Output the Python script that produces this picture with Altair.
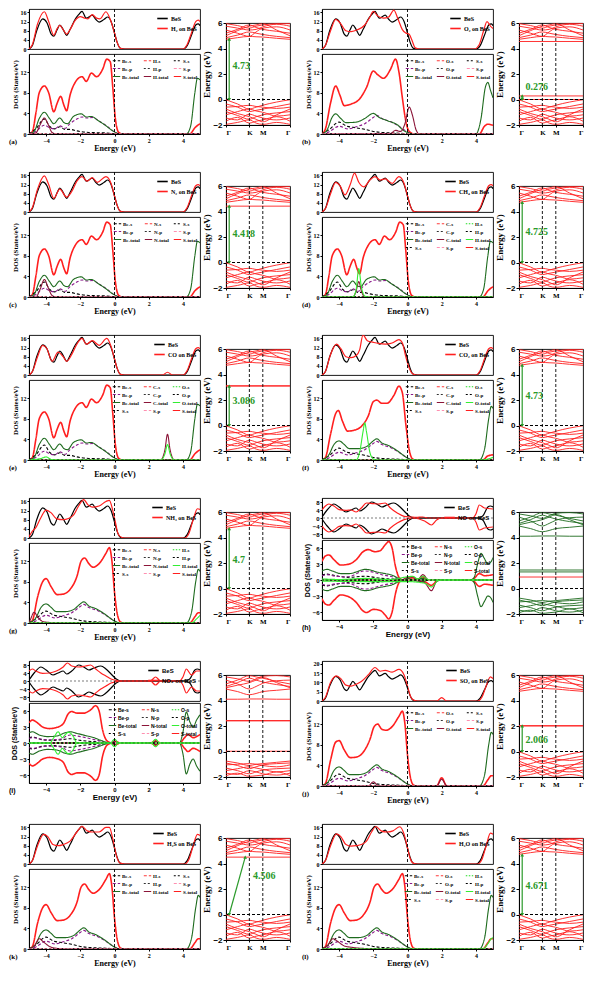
import altair as alt
import pandas as pd

SERIF = "Liberation Serif"
SANS = "Liberation Sans"
RED = "#ff1f1f"
GREEN_TXT = "#2a9a2a"
BAND_GREEN = "#1e6b1e"

# ---------------- axes / labels ----------------
E_DOMAIN = [-5, 5]
E_TICKS = [-4, -2, 0, 2, 4]
FERMI = [0]
TOP_TICKS = [0, 4, 8, 12, 16]
TOP_TICKS_J = [0, 5, 10, 15, 20]
TOP_TICKS_SPIN = [-8, -4, 0, 4, 8]
BOT_TICKS = [0, 4, 8, 12]
BOT_TICKS_SPIN = [-6, -3, 0, 3, 6]
K_NODES = [0, 0.18, 0.365, 0.47, 0.575, 0.79, 1.0]
K_TICKS = [0, 0.365, 0.575, 1.0]
K_LABELS = ["Γ", "K", "M", "Γ"]
K_LINES = [0.365, 0.575]
BAND_TICKS = [-2, 0, 2, 4, 6]
BAND_DOMAIN = [-2, 6]

ZERO = [[-5, 0], [5, 0]]

# ---------------- total DOS (top panels) ----------------
BES_TOP = [[-5,0],[-4.8,1.5],[-4.55,8],[-4.2,13.2],[-3.95,11.5],[-3.7,6.5],[-3.55,5.6],[-3.35,8.5],[-3.2,10.5],[-3.0,8.5],[-2.8,6.0],[-2.6,8.5],[-2.3,13],[-2.1,15],[-1.9,16.5],[-1.65,13.5],[-1.3,14.8],[-1.1,13],[-0.9,11.8],[-0.6,13],[-0.4,14],[-0.2,12],[0,7],[0.15,3],[0.35,0.3],[0.6,0],[4.0,0],[4.25,1.5],[4.5,6],[4.75,10.5],[4.9,11],[5,10.2]]
TOP_A = [[-5,0],[-4.8,2],[-4.5,11],[-4.1,16.3],[-3.85,12],[-3.55,6],[-3.35,9],[-3.2,10.3],[-3.0,8.5],[-2.8,6.5],[-2.6,8.5],[-2.3,12.5],[-2.0,14.2],[-1.75,13.5],[-1.55,13.2],[-1.3,15],[-1.05,13.5],[-0.85,13.2],[-0.5,16.3],[-0.25,13],[0,7],[0.15,3],[0.35,0.3],[0.6,0],[4.0,0],[4.25,2],[4.5,7],[4.75,12],[4.9,12.6],[5,12]]
TOP_B = [[-5,0],[-4.8,1.5],[-4.5,8],[-4.2,13],[-3.95,11.5],[-3.6,8],[-3.3,7.6],[-2.9,8.5],[-2.5,10.5],[-2.2,14],[-2.0,16.5],[-1.75,14.5],[-1.4,13.5],[-1.1,14],[-0.8,17],[-0.55,13],[-0.3,8.5],[-0.1,7],[0.1,6.5],[0.25,4],[0.45,0.5],[0.7,0],[3.9,0],[4.2,2],[4.45,8],[4.65,12],[4.85,10],[5,9]]
TOP_C = [[-5,0],[-4.8,2],[-4.5,10],[-4.1,15.8],[-3.85,12],[-3.55,6],[-3.2,10],[-2.8,6.5],[-2.5,9],[-2.2,13.5],[-1.9,15.5],[-1.6,13.5],[-1.3,15],[-1.0,13],[-0.5,15.5],[-0.2,12.5],[0,7],[0.15,3],[0.35,0.3],[0.6,0],[4.0,0],[4.25,2],[4.5,7],[4.75,11.5],[4.9,12],[5,11.5]]
TOP_D = [[-5,0],[-4.8,1.5],[-4.5,8],[-4.2,13],[-3.95,11.5],[-3.65,7.5],[-3.35,12],[-3.1,17],[-2.85,13],[-2.55,11],[-2.2,14],[-1.9,15.5],[-1.6,14],[-1.3,14.5],[-0.9,12.5],[-0.5,15.5],[-0.2,12.5],[0,7],[0.15,3],[0.35,0.3],[0.6,0],[4.0,0],[4.25,2],[4.5,7],[4.75,11.5],[4.9,12],[5,11.5]]
TOP_E = [[-5,0],[-4.8,1.5],[-4.5,8],[-4.2,13],[-3.95,11.5],[-3.65,6],[-3.3,10],[-3.0,8],[-2.8,6],[-2.5,9],[-2.2,13.5],[-1.9,16],[-1.65,13.5],[-1.3,15],[-0.9,13],[-0.45,16],[-0.2,12.5],[0,7],[0.15,3],[0.35,0.3],[0.6,0],[2.8,0],[3.1,1.2],[3.4,0],[4.0,0],[4.25,2],[4.5,7],[4.75,11.5],[4.9,12],[5,11.5]]
TOP_F = [[-5,0],[-4.8,1.5],[-4.5,9],[-4.15,13.5],[-3.9,11.5],[-3.6,8],[-3.3,7.6],[-3.0,8.5],[-2.8,11],[-2.6,17.5],[-2.35,15],[-2.0,14.3],[-1.7,13.8],[-1.3,13.5],[-0.9,14],[-0.5,15.5],[-0.3,14],[-0.1,8],[0.1,3],[0.3,0.5],[0.5,0],[4.0,0],[4.25,2],[4.5,7],[4.75,11.5],[4.9,12],[5,11.5]]
TOP_G = [[-5,0.5],[-4.8,3],[-4.6,4.5],[-4.3,9],[-4.0,12.2],[-3.7,11],[-3.4,8.5],[-3.0,8],[-2.7,8.5],[-2.4,10],[-2.1,14],[-1.8,16.8],[-1.55,14.5],[-1.3,13.5],[-0.9,14],[-0.5,16],[-0.3,16.5],[-0.1,12],[0.05,7],[0.2,2],[0.4,0.3],[0.6,0],[4.1,0],[4.35,2],[4.6,8],[4.85,12.8],[5,12.5]]
TOP_J = [[-5,0],[-4.8,2],[-4.5,10],[-4.15,13.5],[-3.9,12],[-3.6,8.5],[-3.3,8],[-3.0,9],[-2.7,10.5],[-2.3,14],[-1.9,18],[-1.6,16],[-1.3,16.5],[-0.9,15.5],[-0.5,17],[-0.2,14],[0,8],[0.2,2],[0.4,0.3],[0.6,0],[1.7,0],[2.0,1.8],[2.3,0],[4.1,0],[4.35,2],[4.6,8],[4.85,13],[5,12]]
TOP_K = [[-5,0],[-4.8,1.5],[-4.5,8],[-4.15,13],[-3.9,12],[-3.6,8.5],[-3.3,8],[-3.0,8.5],[-2.6,10],[-2.2,14],[-1.9,16.5],[-1.6,14.5],[-1.3,14],[-0.9,14],[-0.5,16],[-0.3,16],[-0.1,11],[0.1,4],[0.3,0.5],[0.6,0],[4.1,0],[4.35,2],[4.6,8],[4.85,13],[5,12.5]]
TOP_L = [[-5,0],[-4.8,1.5],[-4.5,8],[-4.15,13.2],[-3.9,12],[-3.6,8.5],[-3.3,7.8],[-3.0,8],[-2.7,8.5],[-2.4,10],[-2.1,14],[-1.85,16.4],[-1.55,14.5],[-1.2,14],[-0.85,14.5],[-0.45,16.3],[-0.2,13],[0,7],[0.15,2.5],[0.35,0.3],[0.6,0],[4.1,0],[4.35,2],[4.6,8],[4.85,13.5],[5,13]]
# spin-polarised totals (h, i)
BES_SPIN = [[-5,0.5],[-4.7,4],[-4.3,7],[-4.0,5.5],[-3.6,3],[-3.3,4],[-3.0,5],[-2.8,3.5],[-2.5,5],[-2.1,8],[-1.8,7],[-1.5,5.5],[-1.2,6.5],[-0.8,7.5],[-0.5,6],[-0.2,3.5],[0.1,1],[0.4,0],[4.1,0],[4.4,1],[4.7,5.5],[4.85,6],[5,5.5]]
TOP_H_UP = [[-5,4],[-4.8,6],[-4.6,7],[-4.3,6],[-4.0,4.2],[-3.6,3.8],[-3.3,4],[-3.0,3],[-2.7,5],[-2.4,7.5],[-2.0,7.2],[-1.7,7],[-1.3,7.5],[-1.0,5],[-0.6,2.5],[-0.2,0.8],[0.2,0.5],[0.5,0.3],[0.9,0.5],[1.2,0],[3.8,0],[4.0,2],[4.2,6.5],[4.5,5],[5,4.5]]
TOP_H_DN = [[-5,-4],[-4.8,-6],[-4.6,-7],[-4.3,-6],[-4.0,-4.2],[-3.6,-3.8],[-3.3,-4],[-3.0,-3],[-2.7,-5],[-2.4,-7.5],[-2.0,-7.2],[-1.7,-7],[-1.3,-7.5],[-1.0,-5],[-0.6,-2.5],[-0.2,-0.8],[0.3,0],[1.0,-1.5],[1.4,-3.5],[1.7,-1],[2,0],[3.8,0],[4.0,-2],[4.2,-6],[4.5,-5],[5,-4.5]]
TOP_I_UP = [[-5,5],[-4.8,6],[-4.6,5],[-4.2,3.8],[-3.8,4],[-3.4,5],[-3.0,7],[-2.75,9],[-2.5,7.5],[-2.1,7],[-1.7,7.5],[-1.4,8],[-1.1,6],[-0.8,4],[-0.5,2.5],[-0.2,1],[0.1,0.3],[0.4,0],[2.1,0],[2.4,2],[2.7,0],[3.8,0],[4.0,2],[4.2,6],[4.5,3],[4.8,5],[5,5]]

# ---------------- projected DOS (bottom panels) ----------------
S_TOT_A = [[-5,0],[-4.8,0.5],[-4.6,4],[-4.4,8],[-4.1,9.3],[-3.85,8],[-3.55,4.3],[-3.35,6],[-3.15,7.3],[-2.95,5.5],[-2.8,4.5],[-2.6,7.5],[-2.3,10],[-1.9,11.1],[-1.65,10.2],[-1.35,11.8],[-1.05,11.1],[-0.7,12.5],[-0.45,14.5],[-0.25,14],[-0.1,9],[0.05,3],[0.25,0.3],[0.5,0],[4.4,0],[4.7,1.2],[5,2]]
BE_TOT_A = [[-5,0],[-4.7,0.5],[-4.4,3],[-4.1,4.2],[-3.8,3],[-3.55,2],[-3.2,3.1],[-2.95,2.2],[-2.75,2],[-2.4,3.4],[-1.95,3.9],[-1.65,3.3],[-1.35,3.4],[-1.0,2.7],[-0.5,1.6],[-0.1,0.6],[0.2,0.1],[0.5,0],[4.2,0],[4.45,1.5],[4.7,8],[4.85,10.8],[5,10.5]]
BE_P_A = [[-5,0],[-4.6,0.5],[-4.1,1.7],[-3.8,1.2],[-3.5,1.0],[-3.2,1.6],[-2.9,1.1],[-2.6,2],[-2.2,2.9],[-1.9,3.3],[-1.6,3.1],[-1.3,3.2],[-0.9,2.5],[-0.4,1.4],[0,0.4],[0.3,0],[5,0]]
BE_S_A = [[-5,0],[-4.6,1],[-4.1,2.9],[-3.8,1.5],[-3.5,1.0],[-3.2,1.4],[-2.9,0.9],[-2.6,0.9],[-2.2,0.6],[-1.5,0.3],[-0.5,0.2],[0.3,0],[5,0]]
S_TOT_B = [[-5,0],[-4.8,0.5],[-4.5,5],[-4.2,8],[-4.0,8.6],[-3.7,7],[-3.35,5.5],[-3.0,5.6],[-2.6,6.5],[-2.2,9],[-1.95,12],[-1.75,12.6],[-1.5,11.5],[-1.25,10.8],[-0.9,11.5],[-0.5,13.5],[-0.3,14.6],[-0.15,12],[0,6],[0.15,2],[0.35,0.2],[0.6,0],[4.4,0],[4.7,1.2],[4.9,2],[5,2]]
BE_TOT_B = [[-5,0],[-4.6,1],[-4.3,3],[-4.0,3.7],[-3.7,3],[-3.4,2.2],[-2.9,2.2],[-2.4,2.6],[-2.0,3.7],[-1.8,4.1],[-1.5,3.3],[-1.1,2.8],[-0.6,1.8],[-0.2,0.8],[0.2,0.1],[0.5,0],[4.2,0],[4.5,2],[4.75,8],[4.9,10.4],[5,10]]
BE_P_B = [[-5,0],[-4.6,0.4],[-4.0,1.5],[-3.5,1.0],[-3.0,1.4],[-2.5,2.0],[-2.0,3.2],[-1.8,3.6],[-1.5,3.0],[-1.0,2.4],[-0.5,1.5],[0,0.4],[0.3,0],[5,0]]
BE_S_B = [[-5,0],[-4.6,0.8],[-4.0,2.3],[-3.6,1.6],[-3.0,1.2],[-2.5,0.9],[-2.0,0.5],[-1.5,0.3],[-0.5,0.15],[0.3,0],[5,0]]
S_TOT_OB = [[-5,0],[-4.8,1],[-4.5,6],[-4.2,9.3],[-3.95,7.5],[-3.7,5.5],[-3.3,5.8],[-2.8,6.8],[-2.4,9],[-2.0,12.2],[-1.75,11.5],[-1.4,10.8],[-1.0,12.5],[-0.7,14.5],[-0.5,12],[-0.3,7],[-0.1,2.5],[0.1,0.5],[0.4,0],[4.2,0],[4.5,1.5],[4.7,1.9],[5,1.7]]
BE_TOT_OB = [[-5,0],[-4.7,0.8],[-4.4,3.3],[-4.2,3.9],[-3.9,3],[-3.6,2.2],[-3.0,2.3],[-2.5,3],[-2.0,4.0],[-1.7,3.3],[-1.2,2.6],[-0.6,1.8],[-0.2,0.6],[0.1,0.2],[0.4,0],[4.0,0],[4.3,3],[4.55,9],[4.7,10],[4.85,8.5],[5,7]]
O_TOT_OB = [[-5,0],[-1,0.1],[-0.7,0.7],[-0.4,0.5],[-0.15,2],[0.1,5.2],[0.3,3.5],[0.5,0.8],[0.7,0],[5,0]]
H_TOT_A = [[-5,0],[-4.6,0.2],[-4.35,1.8],[-4.1,3.1],[-3.9,2.0],[-3.65,0.3],[-3.4,0],[5,0]]
N_TOT_C = [[-5,0],[-4.6,0],[-4.35,1.5],[-4.1,3.4],[-3.9,2.0],[-3.65,0.3],[-3.4,0],[5,0]]
C_TOT_D = [[-5,0],[-3.2,0],[-3.0,1.2],[-2.85,3],[-2.7,1.2],[-2.5,0],[5,0]]
H_TOT_D = [[-5,0],[-3.2,0],[-3.0,1.5],[-2.85,5.5],[-2.7,2],[-2.5,0.2],[-2.3,0],[5,0]]
C_TOT_E = [[-5,0],[2.7,0],[2.95,2],[3.1,5],[3.25,2],[3.5,0],[5,0]]
O_TOT_E = [[-5,0],[-4.3,0.3],[-4.0,0.6],[-3.7,0.1],[-3.3,0],[2.7,0],[2.95,1.2],[3.1,3],[3.25,1.2],[3.5,0],[5,0]]
S_TOT_F = [[-5,0],[-4.8,0.5],[-4.5,5],[-4.2,9],[-4.05,9.6],[-3.8,7.5],[-3.5,5.6],[-3.1,5.8],[-2.7,6.5],[-2.3,8.5],[-2.0,11.3],[-1.8,11.6],[-1.5,11],[-1.2,11],[-0.8,12.5],[-0.5,14.3],[-0.3,13],[-0.1,7],[0.1,2],[0.3,0.2],[0.5,0],[4.4,0],[4.7,0.8],[5,1]]
O_TOT_F = [[-5,0],[-3.0,0],[-2.8,1.5],[-2.6,5.5],[-2.5,7.2],[-2.4,5.5],[-2.2,1.5],[-2.0,0.2],[-1.8,0],[4.4,0],[4.8,0.3],[5,0.5]]
N_TOT_G = [[-5,0],[-4.9,0.8],[-4.7,2.1],[-4.5,1.2],[-4.2,0.3],[-3.8,0.1],[-3.5,0],[5,0]]
H_TOT_G = [[-5,0],[4.5,0],[4.8,0.8],[5,1.5]]
S_TOT_J = [[-5,0],[-4.8,0.5],[-4.5,5],[-4.2,8.5],[-4.0,8.8],[-3.7,7],[-3.35,5.5],[-3.0,5.6],[-2.6,6.5],[-2.2,9],[-1.95,11.5],[-1.75,12],[-1.5,11],[-1.25,10.8],[-0.9,11.5],[-0.5,13.5],[-0.3,14.5],[-0.15,12],[0,6],[0.15,2],[0.35,0.2],[0.6,0],[1.7,0],[2.0,1.6],[2.3,0],[4.4,0],[4.7,1.2],[4.9,2],[5,2]]
O_TOT_J = [[-5,0],[-2.3,0],[-2.0,0.8],[-1.7,0],[1.7,0],[2.0,1.3],[2.3,0],[5,0]]
H_TOT_K = [[-5,0],[-4.7,0.5],[-4.4,2.0],[-4.2,1.5],[-3.8,0.5],[-3.3,0.1],[-2.8,0],[5,0]]
O_TOT_L = [[-5,0],[-4.7,0.6],[-4.35,2.0],[-4.1,1.5],[-3.7,0.6],[-3.2,0.3],[-2.5,0.1],[-1.5,0],[5,0]]
H_TOT_L = [[-5,0],[4.4,0],[4.7,1],[4.9,2],[5,2.2]]
# spin-polarised projected DOS
S_TOT_H_UP = [[-5,3.5],[-4.8,4.5],[-4.6,4.7],[-4.3,3.8],[-3.9,2.8],[-3.4,3.0],[-3.0,3.8],[-2.6,5.3],[-2.3,5.7],[-1.9,5.3],[-1.6,5.5],[-1.3,6.6],[-1.1,7.2],[-0.9,6],[-0.7,2.5],[-0.45,0.3],[-0.2,0],[0,0.3],[0.3,0.4],[0.6,0.1],[0.9,0.6],[1.2,0],[3.7,0],[3.9,0.3],[4.2,1.2],[4.5,0.8],[5,1]]
S_TOT_H_DN = [[-5,-3.5],[-4.8,-4.5],[-4.6,-4.7],[-4.3,-3.8],[-3.9,-2.8],[-3.4,-3.2],[-3.0,-4.2],[-2.6,-5.8],[-2.4,-6.1],[-2.0,-5.5],[-1.6,-5.7],[-1.3,-6.6],[-1.1,-7.3],[-0.9,-6],[-0.7,-2.5],[-0.45,-0.3],[-0.2,0],[0.3,0],[1.0,-0.3],[1.4,-1.0],[1.8,0],[3.7,0],[3.9,-0.3],[4.2,-1.2],[4.5,-0.8],[5,-1]]
BE_TOT_H = [[-5,1.7],[-4.7,2.0],[-4.4,1.7],[-3.9,1.2],[-3.4,1.2],[-3.0,1.5],[-2.5,2.0],[-2.2,1.9],[-1.8,1.5],[-1.3,1.2],[-0.9,0.9],[-0.5,0.3],[-0.2,0],[0.0,0.3],[0.3,0.1],[0.9,0.3],[1.2,0],[3.7,0],[3.9,0.5],[4.1,3],[4.3,5],[4.5,4],[4.7,3],[4.9,3.5],[5,4.2]]
BE_P_H = [[-5,0.8],[-4.7,1.0],[-4.2,0.7],[-3.5,0.6],[-2.5,1.7],[-2.2,1.6],[-1.5,1.0],[-0.9,0.6],[-0.4,0.1],[0,0],[5,0]]
BE_S_H = [[-5,0.9],[-4.7,1.1],[-4.2,0.8],[-3.5,0.5],[-2.5,0.7],[-1.5,0.3],[-0.5,0.1],[0,0],[5,0]]
N_TOT_H_UP = [[-5,0],[-0.4,0],[0,0.5],[0.3,0.6],[0.6,0.1],[0.9,1.0],[1.2,0.1],[1.5,0],[5,0]]
N_TOT_H_DN = [[-5,0],[-0.4,0],[0,-0.3],[0.4,-0.1],[1.0,-0.5],[1.4,-2.0],[1.7,-0.3],[2.0,0],[5,0]]
O_TOT_H_UP = [[-5,0.2],[-4,0.1],[-2.5,0.3],[-1,0.1],[0,0.6],[0.3,0.7],[0.6,0.2],[0.9,0.7],[1.2,0.1],[1.5,0],[5,0]]
O_TOT_H_DN = [[-5,-0.2],[-2.5,-0.3],[0,-0.3],[1.0,-0.6],[1.4,-1.3],[1.8,-0.1],[2,0],[5,0]]
S_TOT_I = [[-5,3.8],[-4.8,4.3],[-4.6,4],[-4.2,3],[-3.8,2.7],[-3.4,2.9],[-3.0,3.6],[-2.7,5.5],[-2.5,5.9],[-2.2,5.6],[-1.8,5.6],[-1.4,6.2],[-1.1,7],[-0.9,6],[-0.7,2.5],[-0.4,0.3],[-0.1,0],[0.1,0.3],[0.3,0],[2.1,0],[2.4,0.4],[2.7,0],[3.8,0],[4.1,1],[4.3,1.6],[4.6,1],[5,1.6]]
BE_TOT_I = [[-5,1.9],[-4.8,2.1],[-4.4,1.5],[-3.9,1.2],[-3.4,1.3],[-2.9,1.9],[-2.6,2.1],[-2.2,1.8],[-1.7,1.4],[-1.2,1.0],[-0.8,0.5],[-0.4,0.1],[0,0],[3.8,0],[4.0,2],[4.2,5.8],[4.4,4],[4.6,3],[4.8,4.3],[5,5.3]]
BE_P_I = [[-5,0.9],[-4.8,1.0],[-4,0.6],[-3.2,0.7],[-2.6,1.5],[-2.0,1.2],[-1.0,0.5],[-0.3,0],[5,0]]
BE_S_I = [[-5,1.0],[-4.8,1.1],[-4.2,0.6],[-3.5,0.5],[-2.6,0.8],[-2.0,0.5],[-1.0,0.2],[-0.3,0],[5,0]]
O_TOT_I = [[-5,0],[-3.8,0],[-3.55,1],[-3.3,2.1],[-3.05,1],[-2.9,1.5],[-2.7,2.0],[-2.4,1.2],[-2.2,0],[-0.25,0],[0,0.7],[0.25,0],[2.15,0],[2.4,0.7],[2.65,0],[5,0]]
N_TOT_I = [[-5,0],[-0.2,0],[0,0.4],[0.2,0],[2.2,0],[2.4,0.3],[2.6,0],[5,0]]

# ---------------- band structures (energies at K_NODES) ----------------
VB_BASE = [
    [-0.02, -0.35, -0.75, -0.6, -0.45, -0.2, -0.02],
    [-0.35, -0.6, -0.95, -0.85, -0.75, -0.55, -0.35],
    [-0.6, -0.55, -0.45, -0.55, -0.6, -0.7, -0.6],
    [-0.95, -1.25, -1.55, -1.35, -1.2, -1.05, -0.95],
    [-1.2, -0.95, -0.75, -0.9, -1.0, -1.3, -1.2],
    [-1.45, -1.6, -1.15, -1.3, -1.45, -1.6, -1.45],
    [-1.7, -1.4, -1.85, -1.7, -1.6, -1.35, -1.7],
    [-1.95, -1.8, -1.6, -1.85, -1.95, -1.8, -1.95],
    [-0.75, -1.1, -1.35, -1.55, -1.75, -1.2, -0.75],
]
CB_BASE = [
    [4.72, 4.85, 4.95, 4.92, 4.9, 4.8, 4.72],
    [4.85, 5.05, 5.3, 5.2, 5.1, 4.95, 4.85],
    [5.0, 5.4, 5.75, 5.85, 5.95, 5.45, 5.0],
    [5.2, 5.5, 5.85, 5.65, 5.5, 5.35, 5.2],
    [5.45, 5.2, 4.95, 5.3, 5.6, 5.7, 5.45],
    [5.75, 5.6, 5.45, 5.5, 5.7, 5.9, 5.75],
    [5.95, 5.8, 5.6, 5.75, 5.85, 5.95, 5.95],
]
VB_HI = [
    [-0.75, -0.9, -1.1, -1.0, -0.95, -0.85, -0.75],
    [-0.9, -1.1, -1.35, -1.2, -1.05, -0.95, -0.9],
    [-1.05, -1.0, -0.95, -1.0, -1.1, -1.2, -1.05],
    [-1.3, -1.5, -1.75, -1.6, -1.45, -1.35, -1.3],
    [-1.5, -1.35, -1.2, -1.3, -1.4, -1.6, -1.5],
    [-1.7, -1.8, -1.5, -1.6, -1.75, -1.85, -1.7],
    [-1.9, -1.7, -1.95, -1.9, -1.85, -1.6, -1.9],
]
CB_HI = [
    [4.1, 4.1, 4.12, 4.12, 4.12, 4.1, 4.1],
    [4.9, 4.7, 4.45, 4.55, 4.7, 4.8, 4.9],
    [5.0, 5.2, 5.4, 5.6, 5.8, 5.4, 5.0],
    [5.1, 5.4, 5.75, 5.6, 5.45, 5.25, 5.1],
    [5.3, 5.6, 5.95, 5.85, 5.75, 5.5, 5.3],
    [5.6, 5.3, 4.9, 5.1, 5.35, 5.55, 5.6],
    [5.85, 5.7, 5.5, 5.7, 5.9, 5.95, 5.85],
]
FLAT_B = [0.0, 0.28, 4.55]
FLAT_C = [4.42]
FLAT_E = [3.09, 3.12]
FLAT_H_RED = [0.9]
FLAT_H_GREEN = [1.3, 1.45]
FLAT_I = [0.02, 2.4, 2.43]
FLAT_J = [2.0, 2.03]
FLAT_K = [4.5]

GAP_LABELS = {"a": "4.73", "b": "0.276", "c": "4.418", "d": "4.725", "e": "3.086", "f": "4.73",
              "g": "4.7", "j": "2.006", "k": "4.506", "l": "4.671"}
GAP_VALUES = {"a": 4.73, "b": 0.276, "c": 4.418, "d": 4.725, "e": 3.086, "f": 4.73,
              "g": 4.7, "j": 2.006, "k": 4.506, "l": 4.671}
GAP_TEXT_Y = {"a": 2.6, "b": 1.0, "c": 2.2, "d": 2.4, "e": 1.9, "f": 2.3,
              "g": 2.2, "j": 0.9, "k": 3.0, "l": 2.2}

# ---------------- sizes ----------------
W_DOS, H_TOP, H_BOT = 171, 40, 80
W_BAND, H_BAND, BAND_DROP = 64, 102, 8


def flats(levels, color):
    return [(lv, color) for lv in levels]


BOT_A = {"S-total": S_TOT_A, "Be-total": BE_TOT_A, "Be-p": BE_P_A, "Be-s": BE_S_A}
BOT_B = {"S-total": S_TOT_B, "Be-total": BE_TOT_B, "Be-p": BE_P_B, "Be-s": BE_S_B}

PANELS = {
    "a": dict(ads="H₂ on BeS", top=TOP_A, elems=["Be", "H", "S"], green=None,
              bot={**BOT_A, "H-total": H_TOT_A}, flat=[]),
    "b": dict(ads="O₂ on BeS", top=TOP_B, elems=["Be", "O", "S"], green=None,
              bot={"S-total": S_TOT_OB, "Be-total": BE_TOT_OB, "Be-p": BE_P_B, "Be-s": BE_S_B, "O-total": O_TOT_OB},
              flat=flats(FLAT_B, RED)),
    "c": dict(ads="N₂ on BeS", top=TOP_C, elems=["Be", "N", "S"], green=None,
              bot={**BOT_A, "N-total": N_TOT_C}, flat=flats(FLAT_C, RED)),
    "d": dict(ads="CH₄ on BeS", top=TOP_D, elems=["Be", "C", "H", "S"], green="H",
              bot={**BOT_A, "C-total": C_TOT_D, "H-total": H_TOT_D}, flat=[]),
    "e": dict(ads="CO on BeS", top=TOP_E, elems=["Be", "C", "O", "S"], green="O",
              bot={**BOT_A, "C-total": C_TOT_E, "O-total": O_TOT_E}, flat=flats(FLAT_E, RED)),
    "f": dict(ads="CO₂ on BeS", top=TOP_F, elems=["Be", "C", "O", "S"], green="O",
              bot={"S-total": S_TOT_F, "Be-total": BE_TOT_B, "Be-p": BE_P_B, "Be-s": BE_S_B, "O-total": O_TOT_F},
              flat=[]),
    "g": dict(ads="NH₃ on BeS", top=TOP_G, elems=["Be", "N", "H", "S"], green="H",
              bot={**BOT_B, "N-total": N_TOT_G, "H-total": H_TOT_G}, flat=[]),
    "h": dict(ads="NO on BeS", top=TOP_H_UP, top_dn=TOP_H_DN, spin=True, font=SANS,
              elems=["Be", "N", "O", "S"], green="O",
              bot={"S-total": S_TOT_H_UP, "Be-total": BE_TOT_H, "Be-p": BE_P_H, "Be-s": BE_S_H,
                   "N-total": N_TOT_H_UP, "O-total": O_TOT_H_UP},
              bot_dn={"S-total": S_TOT_H_DN, "N-total": N_TOT_H_DN, "O-total": O_TOT_H_DN},
              vb=VB_HI, cb=CB_HI, color=BAND_GREEN,
              flat=flats(FLAT_H_RED, RED) + flats(FLAT_H_GREEN, BAND_GREEN)),
    "i": dict(ads="NO₂ on BeS", top=TOP_I_UP, spin=True, font=SANS,
              elems=["Be", "N", "O", "S"], green="O",
              bot={"S-total": S_TOT_I, "Be-total": BE_TOT_I, "Be-p": BE_P_I, "Be-s": BE_S_I,
                   "N-total": N_TOT_I, "O-total": O_TOT_I},
              vb=VB_HI, cb=CB_HI, flat=flats(FLAT_I, RED)),
    "j": dict(ads="SO₂ on BeS", top=TOP_J, top_ticks=TOP_TICKS_J, top_dom=[0, 21.5],
              elems=["Be", "O", "S"], green=None,
              bot={"S-total": S_TOT_J, "Be-total": BE_TOT_B, "Be-p": BE_P_B, "Be-s": BE_S_B, "O-total": O_TOT_J},
              flat=flats(FLAT_J, RED)),
    "k": dict(ads="H₂S on BeS", top=TOP_K, elems=["Be", "H", "S"], green=None,
              bot={**BOT_B, "H-total": H_TOT_K}, flat=flats(FLAT_K, RED), diag=True),
    "l": dict(ads="H₂O on BeS", top=TOP_L, elems=["Be", "O", "H", "S"], green="H",
              bot={**BOT_B, "O-total": O_TOT_L, "H-total": H_TOT_L}, flat=[]),
}


def dos_style(name, green):
    el, kind = name.rsplit("-", 1)
    if el == "Be":
        return {"s": ("#000000", [3, 2]), "p": ("#8b1a8b", [3, 2]), "total": ("#1e6b1e", [1, 0])}[kind]
    if el == "S":
        return {"s": ("#000000", [2, 2]), "p": ("#ff8fb0", [3, 2]), "total": (RED, [1, 0])}[kind]
    if el == green:
        return {"s": ("#22dd22", [1.5, 1.5]), "p": ("#000000", [2, 2]), "total": ("#33ee33", [1, 0])}[kind]
    return {"s": ("#ff3a3a", [3, 2]), "p": ("#333333", [2, 2]), "total": ("#8b1538", [1, 0])}[kind]


def legend_order(elems):
    # legend entries flow down the columns (3 columns)
    kinds = ("s", "p", "total")
    if len(elems) == 3:
        return [f"{e}-{k}" for e in elems for k in kinds]
    be, x, y, s = elems
    order = []
    for e, extra in ((be, "s"), (x, "p"), (y, "total")):
        order += [f"{e}-{k}" for k in kinds] + [f"{s}-{extra}"]
    return order


def rows_for(name, pts, branch):
    return [{"s": name, "b": branch, "E": e, "v": v} for e, v in pts]


def mirror(pts):
    return [[e, -v] for e, v in pts]


def x_scale():
    return alt.Scale(domain=E_DOMAIN, nice=False, zero=False)


def top_chart(p, font):
    spin = p.get("spin", False)
    names = ["BeS", p["ads"]]
    rows = []
    if spin:
        rows += rows_for(names[0], BES_SPIN, "u") + rows_for(names[0], mirror(BES_SPIN), "d")
        rows += rows_for(names[1], p["top"], "u")
        rows += rows_for(names[1], p.get("top_dn") or mirror(p["top"]), "d")
    else:
        rows += rows_for(names[0], BES_TOP, "u") + rows_for(names[1], p["top"], "u")
    df = pd.DataFrame(rows)
    dom = [-10, 10] if spin else p.get("top_dom", [0, 17.5])
    ticks = TOP_TICKS_SPIN if spin else p.get("top_ticks", TOP_TICKS)
    ys = alt.Scale(domain=dom, nice=False)
    yax = alt.Axis(values=ticks, title=None, labelFontSize=6, labelFont=font,
                   labelFontWeight="bold", tickSize=2, labelPadding=1, grid=False, labelOverlap=False)
    leg = alt.Legend(title=None, orient="top-right", symbolType="stroke", symbolSize=110,
                     symbolStrokeWidth=1.6, labelFontSize=6, labelFont=font, labelFontWeight="bold",
                     rowPadding=0, padding=1, offset=2, labelOffset=2)
    lines = alt.Chart(df).mark_line(interpolate="monotone", strokeWidth=1.2, clip=True).encode(
        x=alt.X("E:Q", scale=x_scale(), axis=None),
        y=alt.Y("v:Q", scale=ys, axis=yax),
        color=alt.Color("s:N", scale=alt.Scale(domain=names, range=["#000000", RED]), legend=leg),
        detail="b:N",
    )
    layers = [alt.Chart(pd.DataFrame({"E": FERMI})).mark_rule(strokeDash=[3, 2], color="black", strokeWidth=0.9)
              .encode(x=alt.X("E:Q", scale=x_scale(), axis=None))]
    if spin:
        layers.append(alt.Chart(pd.DataFrame({"v": FERMI})).mark_rule(strokeDash=[2, 2], color="#444", strokeWidth=0.7)
                      .encode(y=alt.Y("v:Q", scale=ys, axis=yax)))
    return alt.layer(lines, *layers).properties(width=W_DOS, height=H_TOP)


def bottom_chart(letter, p, font):
    spin = p.get("spin", False)
    order = legend_order(p["elems"])
    rows = []
    for name in order:
        up = p["bot"].get(name, ZERO)
        rows += rows_for(name, up, "u")
        if spin:
            dn = p.get("bot_dn", {}).get(name) or mirror(up)
            rows += rows_for(name, dn, "d")
    df = pd.DataFrame(rows)
    styles = [dos_style(n, p["green"]) for n in order]
    dom = [-7.5, 7.5] if spin else [0, 15.5]
    ticks = BOT_TICKS_SPIN if spin else BOT_TICKS
    leg = alt.Legend(title=None, orient="top-right", columns=3, symbolType="stroke", symbolSize=55,
                     symbolStrokeWidth=1.2, labelFontSize=5, labelFont=font, labelFontWeight="bold",
                     rowPadding=0, columnPadding=2, padding=1, offset=1, labelOffset=1, labelLimit=40)
    xax = alt.Axis(values=E_TICKS, title="Energy (eV)", labelFontSize=6, labelFont=font,
                   labelFontWeight="bold", titleFont=font, titleFontSize=8, titleFontWeight="bold",
                   tickSize=2, labelPadding=1, titlePadding=1, grid=False, labelOverlap=False)
    enc = dict(
        x=alt.X("E:Q", scale=x_scale(), axis=xax),
        y=alt.Y("v:Q", scale=alt.Scale(domain=dom, nice=False),
                axis=alt.Axis(values=ticks, title="DOS (States/eV)", labelFontSize=6, labelFont=font,
                              labelFontWeight="bold", titleFont=font, titleFontSize=7, titleFontWeight="bold",
                              tickSize=2, labelPadding=1, titlePadding=2, titleY=30, grid=False,
                              labelOverlap=False)),
        color=alt.Color("s:N", scale=alt.Scale(domain=order, range=[s[0] for s in styles]), legend=leg),
        strokeDash=alt.StrokeDash("s:N", scale=alt.Scale(domain=order, range=[s[1] for s in styles]), legend=leg),
        detail="b:N",
    )
    stot = alt.Chart(df).transform_filter(alt.datum.s == "S-total").mark_line(
        interpolate="monotone", strokeWidth=1.6, clip=True).encode(**enc)
    rest = alt.Chart(df).transform_filter(alt.datum.s != "S-total").mark_line(
        interpolate="monotone", strokeWidth=1.1, clip=True).encode(**enc)
    fermi = alt.Chart(pd.DataFrame({"E": FERMI})).mark_rule(strokeDash=[3, 2], color="black", strokeWidth=0.9).encode(
        x=alt.X("E:Q", scale=x_scale(), axis=xax))
    lab = alt.Chart(pd.DataFrame({"t": [f"({letter})"]})).mark_text(
        align="left", baseline="middle", font=font, fontWeight="bold", fontSize=7).encode(
        x=alt.value(-20), y=alt.value(H_BOT + 8), text="t:N")
    return alt.layer(stot, rest, fermi, lab).properties(width=W_DOS, height=H_BOT)


def band_chart(letter, p):
    color = p.get("color", RED)
    rows = []
    for i, vals in enumerate(p.get("vb", VB_BASE) + p.get("cb", CB_BASE)):
        rows += [{"id": f"b{i}", "k": k, "e": e, "c": color} for k, e in zip(K_NODES, vals)]
    for j, (lev, col) in enumerate(p["flat"]):
        rows += [{"id": f"f{j}", "k": k, "e": lev, "c": col} for k in (K_TICKS[0], K_TICKS[-1])]
    df = pd.DataFrame(rows)
    ks = alt.Scale(domain=[0, 1], nice=False, zero=False)
    es = alt.Scale(domain=BAND_DOMAIN, nice=False, zero=False)
    label_expr = ("datum.value < 0.1 || datum.value > 0.9 ? '" + K_LABELS[0] + "' : (datum.value < 0.47 ? '"
                  + K_LABELS[1] + "' : '" + K_LABELS[2] + "')")
    kax = alt.Axis(values=K_TICKS, labelExpr=label_expr, title=None, labelFontSize=7,
                   labelFont=SERIF, labelFontWeight="bold", tickSize=2,
                   labelPadding=1, grid=False, labelOverlap=False)
    eax = alt.Axis(values=BAND_TICKS, title="Energy (eV)", labelFontSize=8,
                   labelFont=SANS, labelFontWeight="bold", format="d",
                   titleFont=SERIF, titleFontSize=9, titleFontWeight="bold",
                   tickSize=3, labelPadding=1, titlePadding=1, grid=False, labelOverlap=False)
    lines = alt.Chart(df).mark_line(interpolate="monotone", strokeWidth=0.9, clip=True).encode(
        x=alt.X("k:Q", scale=ks, axis=kax),
        y=alt.Y("e:Q", scale=es, axis=eax),
        color=alt.Color("c:N", scale=None),
        detail="id:N",
    )
    vrules = alt.Chart(pd.DataFrame({"k": K_LINES})).mark_rule(strokeDash=[3, 2], color="black", strokeWidth=0.9).encode(
        x=alt.X("k:Q", scale=ks, axis=kax))
    hrule = alt.Chart(pd.DataFrame({"e": FERMI})).mark_rule(strokeDash=[3, 2], color="black", strokeWidth=1.1).encode(
        y=alt.Y("e:Q", scale=es, axis=eax))
    layers = [lines, vrules, hrule]
    if letter in GAP_VALUES:
        k1 = 0.3 if p.get("diag") else 0.05
        gdf = pd.DataFrame({"k0": [0.05], "e0": FERMI, "k1": [k1], "e1": [GAP_VALUES[letter]],
                            "kt": [0.42 if p.get("diag") else 0.1], "et": [GAP_TEXT_Y[letter]],
                            "t": [GAP_LABELS[letter]]})
        layers += [
            alt.Chart(gdf).mark_rule(color=GREEN_TXT, strokeWidth=1.2).encode(
                x=alt.X("k0:Q", scale=ks, axis=kax), y=alt.Y("e0:Q", scale=es, axis=eax), x2="k1:Q", y2="e1:Q"),
            alt.Chart(gdf).mark_point(shape="triangle-up", filled=True, size=14, color=GREEN_TXT, opacity=1).encode(
                x=alt.X("k1:Q", scale=ks, axis=kax), y=alt.Y("e1:Q", scale=es, axis=eax)),
            alt.Chart(gdf).mark_point(shape="triangle-down", filled=True, size=14, color=GREEN_TXT, opacity=1).encode(
                x=alt.X("k0:Q", scale=ks, axis=kax), y=alt.Y("e0:Q", scale=es, axis=eax)),
            alt.Chart(gdf).mark_text(align="left", baseline="middle", color=GREEN_TXT, font=SERIF,
                                     fontWeight="bold", fontSize=10).encode(
                x=alt.X("kt:Q", scale=ks, axis=kax), y=alt.Y("et:Q", scale=es, axis=eax), text="t:N"),
        ]
    band = alt.layer(*layers).properties(width=W_BAND, height=H_BAND)
    spacer = alt.Chart(pd.DataFrame({"a": [0]})).mark_point(opacity=0).properties(
        width=W_BAND, height=BAND_DROP, view=alt.ViewBackground(stroke="transparent"))
    return alt.vconcat(spacer, band, spacing=0)


def indep(c):
    return c.resolve_scale(color="independent", strokeDash="independent").resolve_legend(
        color="independent", strokeDash="independent")


def group(letter):
    p = PANELS[letter]
    font = p.get("font", SERIF)
    dos = indep(alt.vconcat(top_chart(p, font), bottom_chart(letter, p, font), spacing=0))
    return indep(alt.hconcat(dos, band_chart(letter, p), spacing=1))


ROWS = [("a", "b"), ("c", "d"), ("e", "f"), ("g", "h"), ("i", "j"), ("k", "l")]

chart = indep(alt.vconcat(*[indep(alt.hconcat(group(l1), group(l2), spacing=10)) for l1, l2 in ROWS], spacing=18))
chart = chart.properties(padding=0).configure_view(stroke="black", strokeWidth=0.9).configure_axis(
    domainColor="black", tickColor="black", labelColor="black", titleColor="black", labelOverlap=False)

chart.save("out.html", embed_options={"renderer": "svg", "actions": False})
